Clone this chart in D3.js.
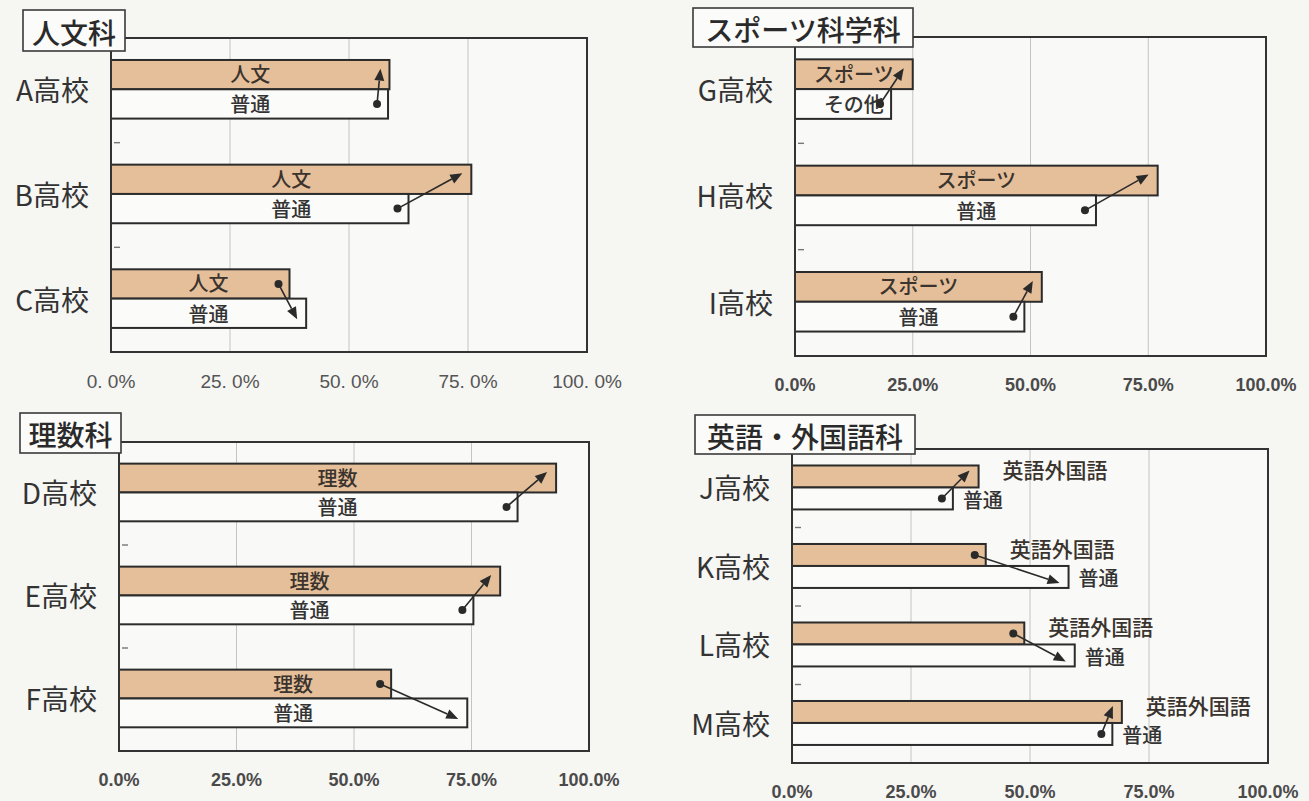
<!DOCTYPE html>
<html>
<head>
<meta charset="utf-8">
<script src="https://cdn.jsdelivr.net/npm/d3@7"></script>
<style>
  html, body { margin: 0; padding: 0; background: #f6f6f3; }
  svg { display: block; }
</style>
</head>
<body>
<svg id="chart" width="1309" height="801"></svg>
<script>
// ---- data ----
const panelTitles = ["人文科", "スポーツ科学科", "理数科", "英語・外国語科"];

const jinbunSchools = ["A高校", "B高校", "C高校"];
const jinbunCourse = [58.5, 75.7, 37.5];
const jinbunGeneral = [58.2, 62.5, 41.0];
const jinbunCourseLabel = "人文";
const jinbunGeneralLabels = ["普通", "普通", "普通"];

const sportsSchools = ["G高校", "H高校", "I高校"];
const sportsCourse = [25.0, 77.0, 52.4];
const sportsGeneral = [20.4, 63.9, 48.7];
const sportsCourseLabel = "スポーツ";
const sportsGeneralLabels = ["その他", "普通", "普通"];

const risuSchools = ["D高校", "E高校", "F高校"];
const risuCourse = [93.0, 81.1, 57.9];
const risuGeneral = [84.8, 75.4, 74.1];
const risuCourseLabel = "理数";
const risuGeneralLabels = ["普通", "普通", "普通"];

const langSchools = ["J高校", "K高校", "L高校", "M高校"];
const langCourse = [39.2, 40.7, 48.8, 69.3];
const langGeneral = [33.8, 58.1, 59.4, 67.3];
const langCourseLabel = "英語外国語";
const langGeneralLabels = ["普通", "普通", "普通", "普通"];

const tickValues = [0, 25, 50, 75, 100];
const tickLabelsSpaced = ["0. 0%", "25. 0%", "50. 0%", "75. 0%", "100. 0%"];
const tickLabels = ["0.0%", "25.0%", "50.0%", "75.0%", "100.0%"];

// ---- layout ----
const panels = [
  { title: panelTitles[0], schools: jinbunSchools, course: jinbunCourse, general: jinbunGeneral,
    courseLabel: jinbunCourseLabel, generalLabels: jinbunGeneralLabels,
    frame: [111, 38, 587, 352], titleBox: [23, 10, 125, 51], tickY: 381, ticks: tickLabelsSpaced, narrowTicks: true, outside: false },
  { title: panelTitles[1], schools: sportsSchools, course: sportsCourse, general: sportsGeneral,
    courseLabel: sportsCourseLabel, generalLabels: sportsGeneralLabels,
    frame: [795, 37, 1266, 356], titleBox: [693, 8, 913, 47], tickY: 385, ticks: tickLabels, narrowTicks: false, outside: false },
  { title: panelTitles[2], schools: risuSchools, course: risuCourse, general: risuGeneral,
    courseLabel: risuCourseLabel, generalLabels: risuGeneralLabels,
    frame: [119, 442, 589, 751], titleBox: [20, 413, 121, 453], tickY: 780, ticks: tickLabels, narrowTicks: false, outside: false },
  { title: panelTitles[3], schools: langSchools, course: langCourse, general: langGeneral,
    courseLabel: langCourseLabel, generalLabels: langGeneralLabels,
    frame: [792, 449, 1268, 763], titleBox: [695, 415, 915, 454], tickY: 792, ticks: tickLabels, narrowTicks: false, outside: true }
];

const COURSE_FILL = "#e5bf99";
const GENERAL_FILL = "#fbfbf9";
const INK = "#2b2b2b";
const JP = "'Noto Sans CJK JP', 'Noto Sans', sans-serif";

const svg = d3.select("#chart");

panels.forEach(p => {
  const [x0, y0, x1, y1] = p.frame;
  const g = svg.append("g");

  const x = d3.scaleLinear().domain([0, 100]).range([x0, x1]);
  const band = d3.scaleBand().domain(p.schools).range([y0, y1]).padding(0);
  const bw = band.bandwidth();
  const barH = bw * 0.28;
  const courseY = s => band(s) + bw * 0.21;
  const generalY = s => courseY(s) + barH;

  // plot area background
  g.append("rect").attr("x", x0).attr("y", y0).attr("width", x1 - x0).attr("height", y1 - y0)
    .attr("fill", "#f9f9f7");

  // vertical gridlines
  g.selectAll("line.grid").data(tickValues.slice(1, -1)).join("line")
    .attr("class", "grid")
    .attr("x1", d => x(d)).attr("x2", d => x(d))
    .attr("y1", y0).attr("y2", y1)
    .attr("stroke", "#c4c4c2").attr("stroke-width", 1);

  // category tick marks between schools
  g.selectAll("line.ctick").data(p.schools.slice(1)).join("line")
    .attr("class", "ctick")
    .attr("x1", x0 + 3).attr("x2", x0 + 9)
    .attr("y1", d => band(d)).attr("y2", d => band(d))
    .attr("stroke", "#777").attr("stroke-width", 1.4);

  const rows = p.schools.map((s, i) => ({ s, i, c: p.course[i], n: p.general[i] }));

  // course bars (orange) and general bars (white)
  g.selectAll("rect.course").data(rows).join("rect")
    .attr("class", "course")
    .attr("x", x(0)).attr("y", d => courseY(d.s))
    .attr("width", d => x(d.c) - x(0)).attr("height", barH)
    .attr("fill", COURSE_FILL).attr("stroke", INK).attr("stroke-width", 2);

  g.selectAll("rect.general").data(rows).join("rect")
    .attr("class", "general")
    .attr("x", x(0)).attr("y", d => generalY(d.s))
    .attr("width", d => x(d.n) - x(0)).attr("height", barH)
    .attr("fill", GENERAL_FILL).attr("stroke", INK).attr("stroke-width", 2);

  // bar labels
  const labelSize = 20;
  g.selectAll("text.clabel").data(rows).join("text")
    .attr("class", "clabel")
    .attr("x", d => p.outside ? x(d.c) + 24 : (x(0) + x(Math.max(d.c, d.n))) / 2)
    .attr("y", d => courseY(d.s) + barH / 2 - (p.outside ? 7 : 1))
    .attr("text-anchor", p.outside ? "start" : "middle")
    .attr("dominant-baseline", "central")
    .attr("font-family", JP).attr("font-size", p.outside ? 21 : labelSize)
    .attr("font-weight", 500)
    .attr("fill", "#3a332e")
    .text(p.courseLabel);

  g.selectAll("text.glabel").data(rows).join("text")
    .attr("class", "glabel")
    .attr("x", d => p.outside ? x(d.n) + 10 : (x(0) + x(Math.max(d.c, d.n))) / 2)
    .attr("y", d => generalY(d.s) + barH / 2 + (p.outside ? 1 : 0))
    .attr("text-anchor", p.outside ? "start" : "middle")
    .attr("dominant-baseline", "central")
    .attr("font-family", JP).attr("font-size", labelSize)
    .attr("font-weight", 500)
    .attr("fill", "#333")
    .text((d, i) => p.generalLabels[i]);

  // arrows from the lower share to the higher share
  rows.forEach(d => {
    const up = d.c >= d.n;
    const fromV = up ? d.n : d.c, toV = up ? d.c : d.n;
    const fromY = (up ? generalY(d.s) : courseY(d.s)) + barH / 2;
    const toY = (up ? courseY(d.s) : generalY(d.s)) + barH / 2 + (up ? -6 : 6);
    const sx = x(fromV) - 11, sy = fromY;
    const ex = x(toV) - 9, ey = toY;
    const ang = Math.atan2(ey - sy, ex - sx);
    const hl = 12, hw = 5;
    const bx = ex - hl * Math.cos(ang), by = ey - hl * Math.sin(ang);
    g.append("line")
      .attr("x1", sx).attr("y1", sy).attr("x2", bx).attr("y2", by)
      .attr("stroke", "#2a2a2a").attr("stroke-width", 1.6);
    const px = -Math.sin(ang) * hw, py = Math.cos(ang) * hw;
    g.append("path")
      .attr("d", `M${ex},${ey}L${bx + px},${by + py}L${bx - px},${by - py}Z`)
      .attr("fill", "#2a2a2a");
    g.append("circle").attr("cx", sx).attr("cy", sy).attr("r", 4).attr("fill", "#2a2a2a");
  });

  // frame
  g.append("rect").attr("x", x0).attr("y", y0).attr("width", x1 - x0).attr("height", y1 - y0)
    .attr("fill", "none").attr("stroke", "#333").attr("stroke-width", 2);

  // school names
  g.selectAll("text.school").data(p.schools).join("text")
    .attr("class", "school")
    .attr("x", x0 - 22)
    .attr("y", d => band(d) + bw * 0.21 + barH)
    .attr("text-anchor", "end")
    .attr("dominant-baseline", "central")
    .attr("font-family", JP).attr("font-size", 28)
    .attr("fill", "#333")
    .text(d => d);

  // x axis tick labels
  g.selectAll("text.tick").data(tickValues).join("text")
    .attr("class", "tick")
    .attr("x", d => x(d)).attr("y", p.tickY)
    .attr("text-anchor", "middle")
    .attr("dominant-baseline", "central")
    .attr("font-family", "'Liberation Sans Narrow', 'Arial Narrow', 'Liberation Sans', sans-serif")
    .attr("font-size", p.narrowTicks ? 19 : 18)
    .attr("fill", p.narrowTicks ? "#555" : "#4a4a4a")
    .attr("font-weight", p.narrowTicks ? "normal" : "bold")
    .text((d, i) => p.ticks[i]);

  // title box
  const [tx0, ty0, tx1, ty1] = p.titleBox;
  g.append("rect").attr("x", tx0).attr("y", ty0).attr("width", tx1 - tx0).attr("height", ty1 - ty0)
    .attr("fill", "#fbfbfa").attr("stroke", "#3a3a3a").attr("stroke-width", 1.6);
  g.append("text")
    .attr("x", (tx0 + tx1) / 2).attr("y", (ty0 + ty1) / 2 + 1)
    .attr("text-anchor", "middle").attr("dominant-baseline", "central")
    .attr("font-family", JP).attr("font-size", 28).attr("font-weight", 500).attr("fill", "#2a2a2a")
    .text(p.title);
});
</script>
</body>
</html>
